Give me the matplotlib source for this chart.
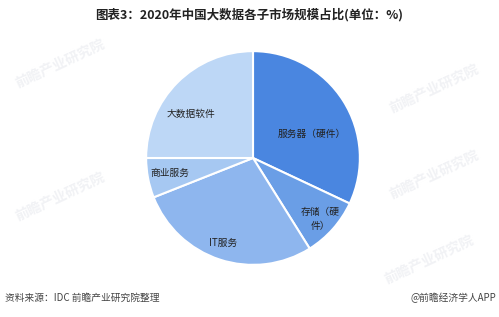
import matplotlib
matplotlib.use("Agg")
import matplotlib.pyplot as plt

plt.rcParams['font.family'] = ['Noto Sans CJK SC', 'DejaVu Sans']

# 2020年中国大数据各子市场规模占比 (%)
segments = ['服务器（硬件）', '存储（硬件）', 'IT服务', '商业服务', '大数据软件']
shares = [32.0, 9.1, 27.9, 6.0, 25.0]
colors = ['#4a86e0', '#6a9ee6', '#8eb6ee', '#a6c8f2', '#bdd7f6']
label_texts = ['服务器（硬件）', '存储（硬\n件）', 'IT服务', '商业服务', '大数据软件']
label_pos = [(0.55, 0.23), (0.63, -0.57), (-0.28, -0.79), (-0.78, -0.14), (-0.58, 0.41)]

fig = plt.figure(figsize=(4.99, 3.17), dpi=100)
fig.patch.set_facecolor('white')

# faint watermarks, behind everything
for (wx, wy) in [(0.12, 0.80), (0.87, 0.72), (0.12, 0.38), (0.87, 0.45), (0.86, 0.18)]:
    fig.text(wx, wy, '前瞻产业研究院', fontsize=10, color='#f1f2f5', rotation=25,
             ha='center', va='center', fontweight='bold', zorder=-5)

cx, cy, r = 253, 158, 109
ax = fig.add_axes([(cx - r) / 499, (317 - cy - r) / 317, 2 * r / 499, 2 * r / 317])
ax.set_zorder(1)
wedges, _ = ax.pie(shares, colors=colors, startangle=90, counterclock=False,
                   radius=1.0, wedgeprops=dict(edgecolor='white', linewidth=1.5))
ax.set_xlim(-1.02, 1.02)
ax.set_ylim(-1.02, 1.02)
ax.set_aspect('equal')
ax.axis('off')

for txt, (lx, ly) in zip(label_texts, label_pos):
    ax.text(lx, ly, txt, fontsize=7, color='#222222', ha='center', va='center',
            linespacing=1.5, multialignment='center')

fig.text(0.5, 1 - 15 / 317, '图表3：2020年中国大数据各子市场规模占比(单位：%)', fontsize=9,
         fontweight='bold', ha='center', va='center', color='#222222')
fig.text(5 / 499, 1 - 298 / 317, '资料来源：IDC 前瞻产业研究院整理', fontsize=7,
         ha='left', va='center', color='#444444')
fig.text(1 - 3 / 499, 1 - 298 / 317, '@前瞻经济学人APP', fontsize=7,
         ha='right', va='center', color='#444444')

fig.savefig('out.png', dpi=100, facecolor='white')
